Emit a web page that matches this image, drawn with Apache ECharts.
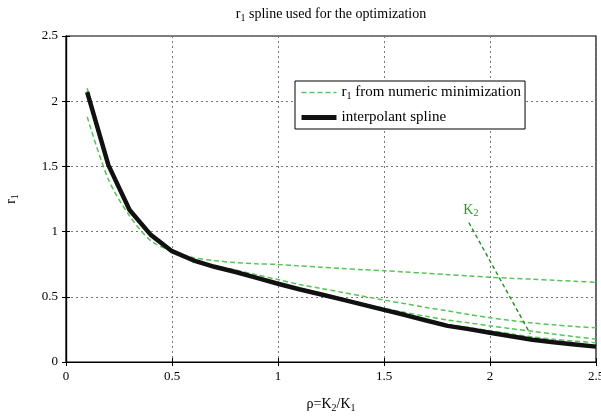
<!DOCTYPE html>
<html>
<head>
<meta charset="utf-8">
<script src="https://cdn.jsdelivr.net/npm/echarts@6/dist/echarts.min.js"></script>
<style>html,body{margin:0;padding:0;background:#fff;}#c{width:601px;height:417px;}</style>
</head>
<body>
<div id="c"></div>
<script>
const rho = [0.1,0.2,0.3,0.4,0.5,0.6,0.7,0.8,0.9,1.0,1.1,1.2,1.3,1.4,1.5,1.6,1.7,1.8,1.9,2.0,2.1,2.2,2.3,2.4,2.5];
const spline = [2.07,1.51,1.165,0.975,0.85,0.78,0.73,0.69,0.645,0.60,0.558,0.52,0.48,0.44,0.40,0.36,0.318,0.277,0.252,0.225,0.197,0.17,0.152,0.135,0.118];
const numA = [1.88,1.40,1.12,0.93,0.85,0.80,0.778,0.762,0.753,0.748,0.737,0.727,0.717,0.708,0.70,0.69,0.68,0.67,0.66,0.65,0.642,0.635,0.627,0.619,0.611];
const numB = [2.10,1.52,1.17,0.98,0.855,0.785,0.74,0.705,0.668,0.632,0.595,0.565,0.535,0.505,0.475,0.447,0.418,0.392,0.365,0.34,0.318,0.30,0.285,0.272,0.262];
const numC = [2.08,1.515,1.168,0.978,0.852,0.784,0.735,0.695,0.65,0.606,0.565,0.527,0.488,0.448,0.412,0.38,0.35,0.322,0.30,0.277,0.255,0.235,0.214,0.194,0.175];
const numD = [2.075,1.512,1.166,0.976,0.851,0.782,0.733,0.693,0.648,0.604,0.562,0.524,0.485,0.445,0.406,0.367,0.327,0.288,0.264,0.24,0.215,0.192,0.175,0.16,0.148];
const xTicks = [0, 0.5, 1, 1.5, 2, 2.5];
const yTicks = [0, 0.5, 1, 1.5, 2, 2.5];
const arrowFrom = [1.9, 1.07];
const arrowTo = [2.19, 0.215];
const k2Label = [1.91, 1.165];

const FONT = '"Liberation Serif", "DejaVu Serif", serif';
const greenName = 'r1 from numeric minimization';
const blackName = 'interpolant spline';
const GREEN = '#58c458';

function pairs(ys) { return rho.map((x, i) => [x, ys[i]]); }

const gridLine = { show: true, lineStyle: { color: '#777', width: 1, type: [2, 3] } };

function greenSeries(ys, extra) {
  return Object.assign({
    name: greenName, type: 'line', data: pairs(ys), showSymbol: false, symbol: 'none',
    smooth: 0.3, xAxisIndex: 0, yAxisIndex: 0,
    lineStyle: { color: GREEN, width: 1.5, type: [5, 3] }, itemStyle: { color: GREEN },
    z: 2, silent: true
  }, extra || {});
}

function richName(size) {
  return { fontFamily: FONT, fontSize: size, color: '#000',
    rich: { n: { fontFamily: FONT, fontSize: size, color: '#000' }, s: { fontFamily: FONT, fontSize: size - 4, color: '#000', padding: [7, 0, 0, 0] } } };
}

const chart = echarts.init(document.getElementById('c'), null, { renderer: 'canvas' });
chart.setOption({
  animation: false,
  backgroundColor: '#fff',
  grid: { left: 66, right: 5, top: 36, bottom: 55, show: true, borderColor: '#000', borderWidth: 1.2, containLabel: false, outerBoundsMode: 'none' },
  legend: {
    left: 295, top: 81, orient: 'vertical',
    backgroundColor: '#fff', borderColor: '#000', borderWidth: 1, borderRadius: 0,
    padding: [4, 4, 4, 4], itemWidth: 35, itemHeight: 14, itemGap: 9, itemStyle: { opacity: 0 },
    data: [
      { name: greenName, lineStyle: { width: 1.5, type: [5, 3], color: GREEN } },
      { name: blackName, lineStyle: { width: 5, color: '#111' } }
    ],
    formatter: function (n) { return n === greenName ? '{n|r}{s|1}{n| from numeric minimization}' : '{n|interpolant spline}'; },
    textStyle: { fontFamily: FONT, fontSize: 15, color: '#000',
      rich: { n: { fontFamily: FONT, fontSize: 15, color: '#000' }, s: { fontFamily: FONT, fontSize: 10, color: '#000', padding: [7, 0, 0, 0] } } }
  },
  xAxis: [{
    type: 'value', min: 0, max: 2.5, interval: 0.5, position: 'bottom',
    name: '{n|ρ=K}{s|2}{n|/K}{s|1}', nameLocation: 'middle', nameGap: 34,
    nameTextStyle: richName(14),
    axisLine: { show: true, lineStyle: { color: '#000', width: 1.2 } },
    axisTick: { show: true, inside: true, length: 4, lineStyle: { color: '#000' } },
    axisLabel: { margin: 8, fontFamily: FONT, fontSize: 13, color: '#000', formatter: v => String(v), customValues: xTicks },
    splitLine: gridLine
  }, {
    type: 'value', min: 0, max: 2.5, interval: 0.5, position: 'top',
    name: '{n|r}{s|1}{n| spline used for the optimization}', nameLocation: 'middle', nameGap: 13,
    nameTextStyle: richName(14),
    axisLine: { show: true, lineStyle: { color: '#000', width: 1.2 } },
    axisTick: { show: true, inside: true, length: 4, lineStyle: { color: '#000' } },
    axisLabel: { show: false }, splitLine: { show: false }
  }],
  yAxis: [{
    type: 'value', min: 0, max: 2.5, interval: 0.5, position: 'left',
    name: '{n|r}{s|1}', nameLocation: 'middle', nameGap: 46, nameRotate: 90,
    nameTextStyle: richName(14),
    axisLine: { show: true, lineStyle: { color: '#000', width: 1.2 } },
    axisTick: { show: true, inside: true, length: 4, lineStyle: { color: '#000' } },
    axisLabel: { margin: 8, fontFamily: FONT, fontSize: 13, color: '#000', formatter: v => String(v), customValues: yTicks },
    splitLine: gridLine
  }, {
    type: 'value', min: 0, max: 2.5, interval: 0.5, position: 'right',
    axisLine: { show: true, lineStyle: { color: '#000', width: 1.2 } },
    axisTick: { show: true, inside: true, length: 4, lineStyle: { color: '#000' } },
    axisLabel: { show: false }, splitLine: { show: false }
  }],
  series: [
    greenSeries(numA, {
      markLine: {
        silent: true, symbol: ['none', 'arrow'], symbolSize: [0, 9],
        lineStyle: { color: '#1f8f1f', width: 1.4, type: [4, 3] },
        label: { show: false },
        data: [[{ coord: arrowFrom }, { coord: arrowTo }]]
      },
      markPoint: {
        silent: true, symbol: 'circle', symbolSize: 1, itemStyle: { color: 'rgba(0,0,0,0)' },
        label: { show: true, position: 'inside', formatter: '{n|K}{s|2}',
          rich: { n: { fontFamily: FONT, fontSize: 14, color: '#2a9a2a' }, s: { fontFamily: FONT, fontSize: 10, color: '#2a9a2a', padding: [7, 0, 0, 0] } } },
        data: [{ coord: k2Label }]
      }
    }),
    greenSeries(numB),
    greenSeries(numC),
    greenSeries(numD),
    {
      name: blackName, type: 'line', data: pairs(spline), showSymbol: false, symbol: 'none',
      lineStyle: { color: '#111', width: 4.5 }, itemStyle: { color: '#111' }, z: 3, silent: true
    }
  ]
});
</script>
</body>
</html>
